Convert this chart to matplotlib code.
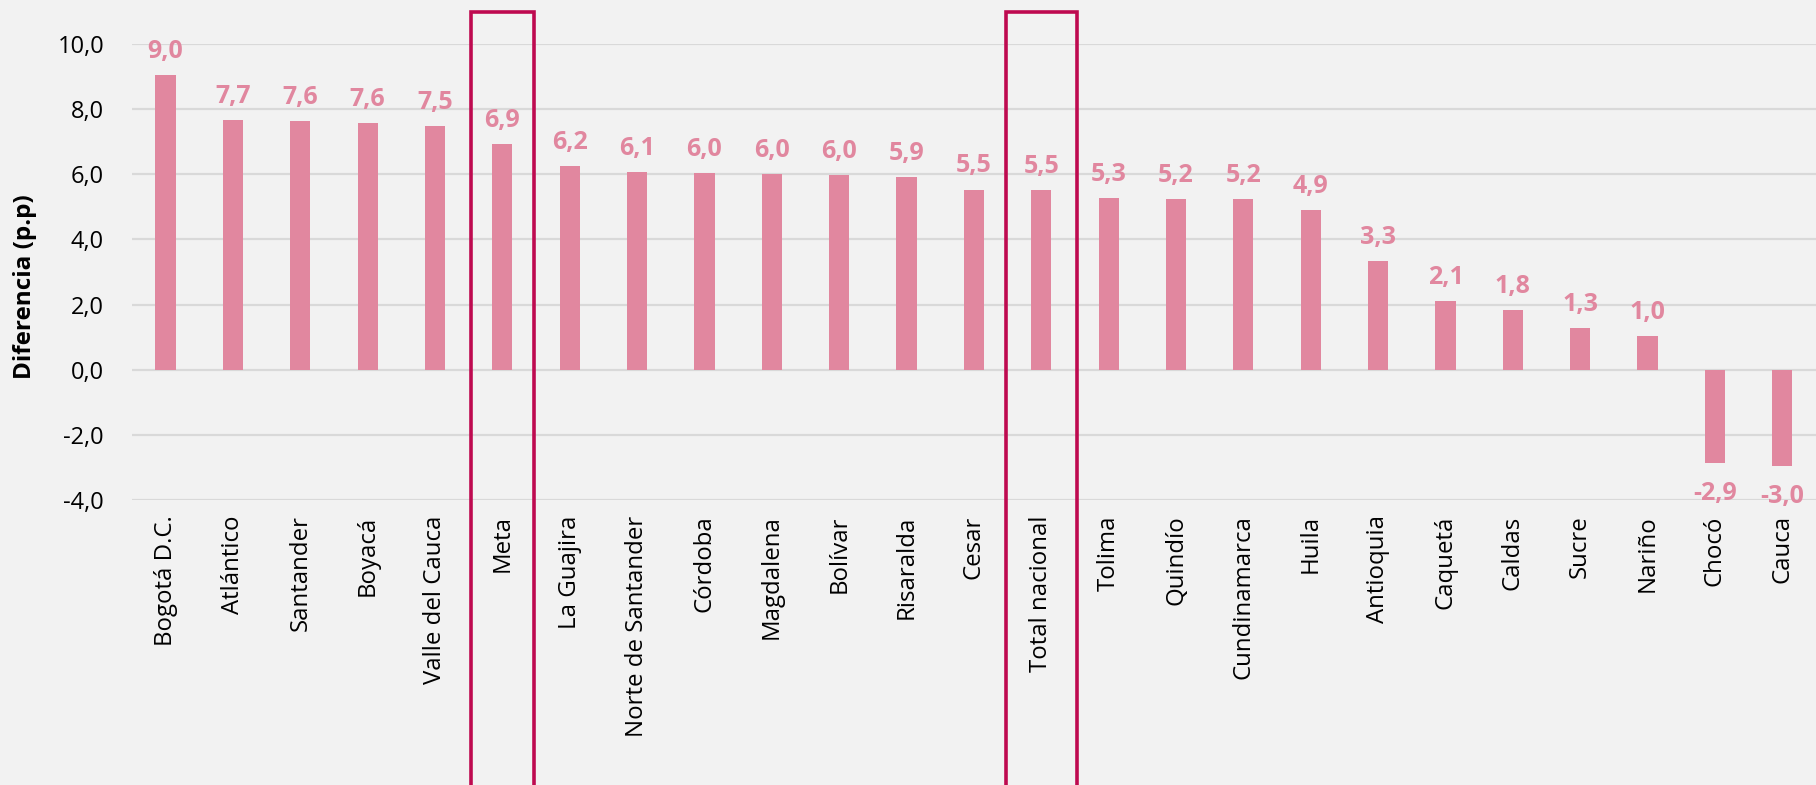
import matplotlib
matplotlib.use("Agg")
import matplotlib.pyplot as plt
from matplotlib.patches import Rectangle

departamentos = ["Bogotá D.C.", "Atlántico", "Santander", "Boyacá", "Valle del Cauca",
                 "Meta", "La Guajira", "Norte de Santander", "Córdoba", "Magdalena",
                 "Bolívar", "Risaralda", "Cesar", "Total nacional", "Tolima", "Quindío",
                 "Cundinamarca", "Huila", "Antioquia", "Caquetá", "Caldas", "Sucre",
                 "Nariño", "Chocó", "Cauca"]
diferencia = [9.04, 7.66, 7.62, 7.56, 7.48, 6.94, 6.24, 6.06, 6.04, 6.01,
              5.98, 5.91, 5.53, 5.51, 5.28, 5.24, 5.23, 4.90, 3.33, 2.12,
              1.84, 1.28, 1.03, -2.86, -2.96]
destacados = ["Meta", "Total nacional"]
y_ticks = [-4, -2, 0, 2, 4, 6, 8, 10]

bar_color = "#E1879F"
box_color = "#BE0A50"
bg = "#F2F2F2"

plt.rcParams["font.family"] = ["Open Sans", "DejaVu Sans"]

fig = plt.figure(figsize=(18.16, 7.85), dpi=100, facecolor=bg)
ax = fig.add_axes([0.0726, 0.363, 0.9274, 0.581])
ax.set_facecolor(bg)

x = list(range(len(departamentos)))
ax.bar(x, diferencia, width=0.3, color=bar_color, zorder=3)

for xi, v in zip(x, diferencia):
    txt = f"{v:.1f}".replace(".", ",")
    if v >= 0:
        ax.annotate(txt, (xi, v), xytext=(0, 8), textcoords="offset points",
                    ha="center", va="bottom", color=bar_color, fontsize=18,
                    fontweight="bold", annotation_clip=False, zorder=4)
    else:
        ax.annotate(txt, (xi, v), xytext=(0, -13), textcoords="offset points",
                    ha="center", va="top", color=bar_color, fontsize=18,
                    fontweight="bold", annotation_clip=False, zorder=4)

# recuadros de resaltado
for name in destacados:
    i = departamentos.index(name)
    w = 0.93 if name == "Meta" else 1.05
    rect = Rectangle((i - w / 2, -0.63), w, 1.70, transform=ax.get_xaxis_transform(),
                     fill=False, edgecolor=box_color, linewidth=2.6,
                     clip_on=False, zorder=5)
    ax.add_patch(rect)

ax.set_xlim(-0.5, len(departamentos) - 0.5)
ax.set_ylim(-4, 10)
ax.set_yticks(y_ticks)
ax.set_yticklabels([f"{t:.1f}".replace(".", ",") for t in y_ticks], fontsize=17)
ax.set_xticks(x)
ax.set_xticklabels(departamentos, rotation=90, va="top", ha="center", fontsize=17.3)
ax.tick_params(axis="both", length=0, colors="black")
ax.tick_params(axis="y", pad=20)
ax.tick_params(axis="x", pad=11)

ax.grid(axis="y", color="#D9D9D9", linewidth=1.6, zorder=0)
for s in ax.spines.values():
    s.set_visible(False)

fig.text(0.014, 1 - 287 / 785, "Diferencia (p.p)", rotation=90, ha="center",
         va="center", fontsize=17.5, fontweight="bold")

fig.savefig("out.png", dpi=100, facecolor=bg)
